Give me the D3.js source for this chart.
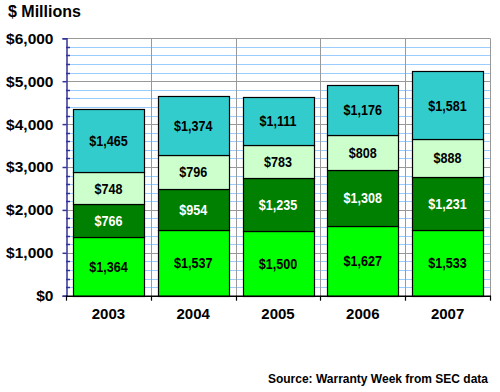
<!DOCTYPE html>
<html><head><meta charset="utf-8">
<script src="https://cdn.jsdelivr.net/npm/d3@7"></script>
<style>body{margin:0;background:#fff}svg{display:block}</style>
</head><body><svg id="c" width="500" height="392"></svg>
<script>
const years = ["2003","2004","2005","2006","2007"];
const seriesA = [1364,1537,1500,1627,1533];
const seriesB = [766,954,1235,1308,1231];
const seriesC = [748,796,783,808,888];
const seriesD = [1465,1374,1111,1176,1581];
const seriesNames = ["A","B","C","D"];
const colors = ["#00ff00","#008000","#ccffcc","#33cccc"];
const labelColors = ["#000","#fff","#000","#000"];
const yTicks = [0,1000,2000,3000,4000,5000,6000];

const svg = d3.select("#c");
const L=66, R=490, T=38.3, B=295.7;
const x = d3.scaleBand().domain(years).range([L,R]).paddingInner(0.165).paddingOuter(0.0825);
const xb = d3.scaleBand().domain(years).range([L,R]);
const y = d3.scaleLinear().domain([0,6000]).range([B,T]);

const rows = years.map((yr,i)=>({year:yr,A:seriesA[i],B:seriesB[i],C:seriesC[i],D:seriesD[i]}));
const stack = d3.stack().keys(seriesNames)(rows);

const minor = d3.range(200,6001,200).filter(v=>v%1000!==0);
svg.append("g").selectAll("line").data(minor).join("line")
  .attr("x1",L).attr("x2",R).attr("y1",d=>Math.round(y(d))+0.5).attr("y2",d=>Math.round(y(d))+0.5)
  .attr("stroke","#99ccff").attr("stroke-width",1);
svg.append("g").selectAll("line").data(yTicks.slice(1)).join("line")
  .attr("x1",L).attr("x2",R).attr("y1",d=>Math.round(y(d))+0.5).attr("y2",d=>Math.round(y(d))+0.5)
  .attr("stroke","#999").attr("stroke-width",1);
svg.append("g").selectAll("line").data(years.slice(1).concat(["end"])).join("line")
  .attr("x1",d=>d==="end"?R+0.5:Math.round(xb(d))+0.5).attr("x2",d=>d==="end"?R+0.5:Math.round(xb(d))+0.5)
  .attr("y1",T).attr("y2",B).attr("stroke","#999").attr("stroke-width",1);

stack.forEach((s,si)=>{
  const g = svg.append("g");
  g.selectAll("rect").data(s).join("rect")
    .attr("x",d=>Math.round(x(d.data.year))+0.5)
    .attr("width",Math.round(x.bandwidth()))
    .attr("y",d=>Math.round(y(d[1]))+0.5)
    .attr("height",d=>Math.round(y(d[0]))-Math.round(y(d[1])))
    .attr("fill",colors[si]).attr("stroke","#000").attr("stroke-width",1.2);
  g.selectAll("text").data(s).join("text")
    .attr("transform",d=>`translate(${x(d.data.year)+x.bandwidth()/2},${(y(d[0])+y(d[1]))/2}) scale(0.84,1)`)
    .attr("dy","0.36em").attr("text-anchor","middle")
    .attr("font-family","Arial,'Liberation Sans',sans-serif")
    .attr("font-weight","bold").attr("font-size",15)
    .attr("fill",labelColors[si])
    .text(d=>d3.format("$,")(d[1]-d[0]));
});

const ya = svg.append("g").attr("transform",`translate(${L+0.5},0)`)
  .call(d3.axisLeft(y).tickValues(yTicks).tickFormat(d3.format("$,")).tickSize(4).tickPadding(9));
ya.select(".domain").attr("stroke","#333399").attr("stroke-width",1.5);
ya.selectAll(".tick line").attr("stroke","#333399").attr("stroke-width",1.5);
ya.selectAll("text").attr("font-family","Arial,'Liberation Sans',sans-serif").attr("font-weight","bold").attr("font-size",15.5).attr("fill","#000");
svg.append("g").selectAll("line").data(minor).join("line")
  .attr("x1",L).attr("x2",L+4).attr("y1",d=>Math.round(y(d))+0.5).attr("y2",d=>Math.round(y(d))+0.5)
  .attr("stroke","#333399").attr("stroke-width",1.5);

svg.append("line").attr("x1",L).attr("x2",R+1).attr("y1",B+0.5).attr("y2",B+0.5).attr("stroke","#000").attr("stroke-width",1.5);
svg.append("g").selectAll("line").data(years.concat(["end"])).join("line")
  .attr("x1",d=>d==="end"?R+0.5:Math.round(xb(d))+0.5).attr("x2",d=>d==="end"?R+0.5:Math.round(xb(d))+0.5)
  .attr("y1",B).attr("y2",B+5).attr("stroke","#000").attr("stroke-width",1.2);
svg.append("g").selectAll("text").data(years).join("text")
  .attr("x",d=>xb(d)+xb.bandwidth()/2).attr("y",318.5).attr("text-anchor","middle")
  .attr("font-family","Arial,'Liberation Sans',sans-serif").attr("font-weight","bold").attr("font-size",15)
  .text(d=>d);

svg.append("text").attr("x",8).attr("y",17).attr("font-family","Arial,'Liberation Sans',sans-serif")
  .attr("font-weight","bold").attr("font-size",16).text("$ Millions");
svg.append("text").attr("x",488).attr("y",383).attr("text-anchor","end").attr("font-family","Arial,'Liberation Sans',sans-serif")
  .attr("font-weight","bold").attr("font-size",12).text("Source: Warranty Week from SEC data");
</script></body></html>
